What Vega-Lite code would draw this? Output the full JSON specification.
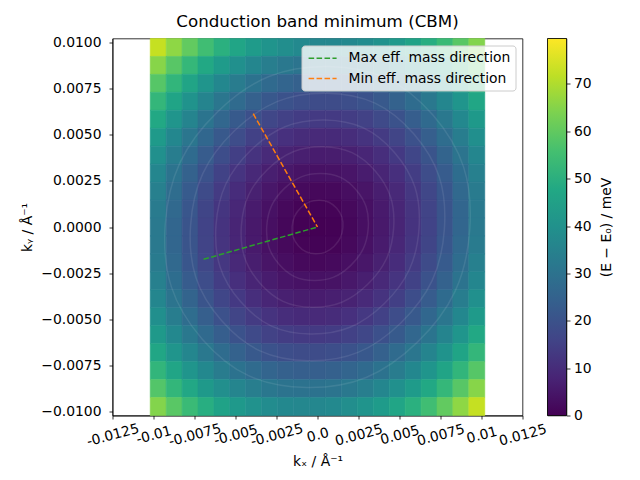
{
"$schema": "https://vega.github.io/schema/vega-lite/v6.json",
"background": "white",
"padding": {"left": 19.5, "top": 13.5, "right": 5, "bottom": 5},
"spacing": 25,
"bounds": "flush",
"resolve": {"scale": {"color": "independent", "fill": "independent", "stroke": "independent"}, "legend": {"color": "independent", "fill": "independent", "stroke": "independent"}},
"config": {
 "font": "DejaVu Sans",
 "view": {"stroke": "black", "strokeWidth": 0.8},
 "axis": {"grid": false, "domainColor": "black", "domainWidth": 0.8, "tickColor": "black", "tickWidth": 0.8, "tickSize": 3.5, "labelColor": "black", "labelFont": "DejaVu Sans", "labelFontSize": 13.9, "titleFont": "DejaVu Sans", "titleFontSize": 13.9, "titleFontWeight": "normal", "titleColor": "black", "labelPadding": 3.5, "zindex": 1},
 "legend": {"labelFont": "DejaVu Sans", "labelFontSize": 13.9, "labelColor": "black"},
 "title": {"font": "DejaVu Sans", "fontSize": 16.7, "fontWeight": "normal", "color": "black"}
},
"hconcat": [
{
 "width": 410, "height": 377,
 "title": {"text": "Conduction band minimum (CBM)", "offset": -9, "baseline": "alphabetic"},
 "resolve": {"axis": {"x": "independent", "y": "independent"}},
 "layer": [
 {
  "data": {"values": [
{"x":-0.009714,"y":0.009714,"E":72.7},{"x":-0.008743,"y":0.009714,"E":66.2},{"x":-0.007771,"y":0.009714,"E":60.4},{"x":-0.0068,"y":0.009714,"E":55.2},{"x":-0.005829,"y":0.009714,"E":50.6},{"x":-0.004857,"y":0.009714,"E":46.7},{"x":-0.003886,"y":0.009714,"E":43.4},{"x":-0.002914,"y":0.009714,"E":40.8},{"x":-0.001943,"y":0.009714,"E":38.8},{"x":-0.000971,"y":0.009714,"E":37.5},{"x":0,"y":0.009714,"E":36.7},{"x":0.000971,"y":0.009714,"E":36.7},{"x":0.001943,"y":0.009714,"E":37.2},{"x":0.002914,"y":0.009714,"E":38.4},{"x":0.003886,"y":0.009714,"E":40.3},{"x":0.004857,"y":0.009714,"E":42.8},{"x":0.005829,"y":0.009714,"E":45.9},{"x":0.0068,"y":0.009714,"E":49.6},{"x":0.007771,"y":0.009714,"E":54.1},{"x":0.008743,"y":0.009714,"E":59.1},{"x":0.009714,"y":0.009714,"E":64.8},
{"x":-0.009714,"y":0.008743,"E":65.3},{"x":-0.008743,"y":0.008743,"E":58.9},{"x":-0.007771,"y":0.008743,"E":53.1},{"x":-0.0068,"y":0.008743,"E":47.9},{"x":-0.005829,"y":0.008743,"E":43.4},{"x":-0.004857,"y":0.008743,"E":39.5},{"x":-0.003886,"y":0.008743,"E":36.3},{"x":-0.002914,"y":0.008743,"E":33.7},{"x":-0.001943,"y":0.008743,"E":31.7},{"x":-0.000971,"y":0.008743,"E":30.4},{"x":0,"y":0.008743,"E":29.8},{"x":0.000971,"y":0.008743,"E":29.7},{"x":0.001943,"y":0.008743,"E":30.3},{"x":0.002914,"y":0.008743,"E":31.6},{"x":0.003886,"y":0.008743,"E":33.5},{"x":0.004857,"y":0.008743,"E":36.0},{"x":0.005829,"y":0.008743,"E":39.1},{"x":0.0068,"y":0.008743,"E":42.9},{"x":0.007771,"y":0.008743,"E":47.4},{"x":0.008743,"y":0.008743,"E":52.5},{"x":0.009714,"y":0.008743,"E":58.2},
{"x":-0.009714,"y":0.007771,"E":58.7},{"x":-0.008743,"y":0.007771,"E":52.3},{"x":-0.007771,"y":0.007771,"E":46.5},{"x":-0.0068,"y":0.007771,"E":41.4},{"x":-0.005829,"y":0.007771,"E":36.9},{"x":-0.004857,"y":0.007771,"E":33.1},{"x":-0.003886,"y":0.007771,"E":29.9},{"x":-0.002914,"y":0.007771,"E":27.3},{"x":-0.001943,"y":0.007771,"E":25.4},{"x":-0.000971,"y":0.007771,"E":24.1},{"x":0,"y":0.007771,"E":23.5},{"x":0.000971,"y":0.007771,"E":23.5},{"x":0.001943,"y":0.007771,"E":24.2},{"x":0.002914,"y":0.007771,"E":25.4},{"x":0.003886,"y":0.007771,"E":27.4},{"x":0.004857,"y":0.007771,"E":29.9},{"x":0.005829,"y":0.007771,"E":33.1},{"x":0.0068,"y":0.007771,"E":37.0},{"x":0.007771,"y":0.007771,"E":41.5},{"x":0.008743,"y":0.007771,"E":46.6},{"x":0.009714,"y":0.007771,"E":52.4},
{"x":-0.009714,"y":0.0068,"E":52.8},{"x":-0.008743,"y":0.0068,"E":46.4},{"x":-0.007771,"y":0.0068,"E":40.7},{"x":-0.0068,"y":0.0068,"E":35.6},{"x":-0.005829,"y":0.0068,"E":31.2},{"x":-0.004857,"y":0.0068,"E":27.4},{"x":-0.003886,"y":0.0068,"E":24.2},{"x":-0.002914,"y":0.0068,"E":21.7},{"x":-0.001943,"y":0.0068,"E":19.8},{"x":-0.000971,"y":0.0068,"E":18.6},{"x":0,"y":0.0068,"E":18.0},{"x":0.000971,"y":0.0068,"E":18.0},{"x":0.001943,"y":0.0068,"E":18.7},{"x":0.002914,"y":0.0068,"E":20.0},{"x":0.003886,"y":0.0068,"E":22.0},{"x":0.004857,"y":0.0068,"E":24.6},{"x":0.005829,"y":0.0068,"E":27.9},{"x":0.0068,"y":0.0068,"E":31.7},{"x":0.007771,"y":0.0068,"E":36.3},{"x":0.008743,"y":0.0068,"E":41.4},{"x":0.009714,"y":0.0068,"E":47.2},
{"x":-0.009714,"y":0.005829,"E":47.6},{"x":-0.008743,"y":0.005829,"E":41.3},{"x":-0.007771,"y":0.005829,"E":35.6},{"x":-0.0068,"y":0.005829,"E":30.6},{"x":-0.005829,"y":0.005829,"E":26.2},{"x":-0.004857,"y":0.005829,"E":22.4},{"x":-0.003886,"y":0.005829,"E":19.3},{"x":-0.002914,"y":0.005829,"E":16.8},{"x":-0.001943,"y":0.005829,"E":15.0},{"x":-0.000971,"y":0.005829,"E":13.8},{"x":0,"y":0.005829,"E":13.2},{"x":0.000971,"y":0.005829,"E":13.3},{"x":0.001943,"y":0.005829,"E":14.0},{"x":0.002914,"y":0.005829,"E":15.4},{"x":0.003886,"y":0.005829,"E":17.4},{"x":0.004857,"y":0.005829,"E":20.0},{"x":0.005829,"y":0.005829,"E":23.3},{"x":0.0068,"y":0.005829,"E":27.2},{"x":0.007771,"y":0.005829,"E":31.8},{"x":0.008743,"y":0.005829,"E":37.0},{"x":0.009714,"y":0.005829,"E":42.9},
{"x":-0.009714,"y":0.004857,"E":43.2},{"x":-0.008743,"y":0.004857,"E":36.9},{"x":-0.007771,"y":0.004857,"E":31.3},{"x":-0.0068,"y":0.004857,"E":26.3},{"x":-0.005829,"y":0.004857,"E":21.9},{"x":-0.004857,"y":0.004857,"E":18.2},{"x":-0.003886,"y":0.004857,"E":15.1},{"x":-0.002914,"y":0.004857,"E":12.7},{"x":-0.001943,"y":0.004857,"E":10.9},{"x":-0.000971,"y":0.004857,"E":9.7},{"x":0,"y":0.004857,"E":9.2},{"x":0.000971,"y":0.004857,"E":9.3},{"x":0.001943,"y":0.004857,"E":10.1},{"x":0.002914,"y":0.004857,"E":11.5},{"x":0.003886,"y":0.004857,"E":13.5},{"x":0.004857,"y":0.004857,"E":16.2},{"x":0.005829,"y":0.004857,"E":19.5},{"x":0.0068,"y":0.004857,"E":23.5},{"x":0.007771,"y":0.004857,"E":28.1},{"x":0.008743,"y":0.004857,"E":33.3},{"x":0.009714,"y":0.004857,"E":39.2},
{"x":-0.009714,"y":0.003886,"E":39.5},{"x":-0.008743,"y":0.003886,"E":33.2},{"x":-0.007771,"y":0.003886,"E":27.6},{"x":-0.0068,"y":0.003886,"E":22.7},{"x":-0.005829,"y":0.003886,"E":18.4},{"x":-0.004857,"y":0.003886,"E":14.7},{"x":-0.003886,"y":0.003886,"E":11.6},{"x":-0.002914,"y":0.003886,"E":9.2},{"x":-0.001943,"y":0.003886,"E":7.5},{"x":-0.000971,"y":0.003886,"E":6.4},{"x":0,"y":0.003886,"E":5.9},{"x":0.000971,"y":0.003886,"E":6.0},{"x":0.001943,"y":0.003886,"E":6.8},{"x":0.002914,"y":0.003886,"E":8.3},{"x":0.003886,"y":0.003886,"E":10.4},{"x":0.004857,"y":0.003886,"E":13.1},{"x":0.005829,"y":0.003886,"E":16.5},{"x":0.0068,"y":0.003886,"E":20.5},{"x":0.007771,"y":0.003886,"E":25.1},{"x":0.008743,"y":0.003886,"E":30.4},{"x":0.009714,"y":0.003886,"E":36.3},
{"x":-0.009714,"y":0.002914,"E":36.5},{"x":-0.008743,"y":0.002914,"E":30.3},{"x":-0.007771,"y":0.002914,"E":24.7},{"x":-0.0068,"y":0.002914,"E":19.8},{"x":-0.005829,"y":0.002914,"E":15.5},{"x":-0.004857,"y":0.002914,"E":11.9},{"x":-0.003886,"y":0.002914,"E":8.9},{"x":-0.002914,"y":0.002914,"E":6.5},{"x":-0.001943,"y":0.002914,"E":4.8},{"x":-0.000971,"y":0.002914,"E":3.7},{"x":0,"y":0.002914,"E":3.3},{"x":0.000971,"y":0.002914,"E":3.5},{"x":0.001943,"y":0.002914,"E":4.3},{"x":0.002914,"y":0.002914,"E":5.8},{"x":0.003886,"y":0.002914,"E":8.0},{"x":0.004857,"y":0.002914,"E":10.7},{"x":0.005829,"y":0.002914,"E":14.1},{"x":0.0068,"y":0.002914,"E":18.2},{"x":0.007771,"y":0.002914,"E":22.8},{"x":0.008743,"y":0.002914,"E":28.2},{"x":0.009714,"y":0.002914,"E":34.1},
{"x":-0.009714,"y":0.001943,"E":34.3},{"x":-0.008743,"y":0.001943,"E":28.1},{"x":-0.007771,"y":0.001943,"E":22.6},{"x":-0.0068,"y":0.001943,"E":17.7},{"x":-0.005829,"y":0.001943,"E":13.5},{"x":-0.004857,"y":0.001943,"E":9.9},{"x":-0.003886,"y":0.001943,"E":6.9},{"x":-0.002914,"y":0.001943,"E":4.6},{"x":-0.001943,"y":0.001943,"E":2.9},{"x":-0.000971,"y":0.001943,"E":1.9},{"x":0,"y":0.001943,"E":1.5},{"x":0.000971,"y":0.001943,"E":1.7},{"x":0.001943,"y":0.001943,"E":2.6},{"x":0.002914,"y":0.001943,"E":4.1},{"x":0.003886,"y":0.001943,"E":6.3},{"x":0.004857,"y":0.001943,"E":9.1},{"x":0.005829,"y":0.001943,"E":12.5},{"x":0.0068,"y":0.001943,"E":16.6},{"x":0.007771,"y":0.001943,"E":21.3},{"x":0.008743,"y":0.001943,"E":26.7},{"x":0.009714,"y":0.001943,"E":32.7},
{"x":-0.009714,"y":0.000971,"E":32.8},{"x":-0.008743,"y":0.000971,"E":26.7},{"x":-0.007771,"y":0.000971,"E":21.2},{"x":-0.0068,"y":0.000971,"E":16.3},{"x":-0.005829,"y":0.000971,"E":12.1},{"x":-0.004857,"y":0.000971,"E":8.6},{"x":-0.003886,"y":0.000971,"E":5.6},{"x":-0.002914,"y":0.000971,"E":3.4},{"x":-0.001943,"y":0.000971,"E":1.7},{"x":-0.000971,"y":0.000971,"E":0.7},{"x":0,"y":0.000971,"E":0.4},{"x":0.000971,"y":0.000971,"E":0.6},{"x":0.001943,"y":0.000971,"E":1.6},{"x":0.002914,"y":0.000971,"E":3.1},{"x":0.003886,"y":0.000971,"E":5.3},{"x":0.004857,"y":0.000971,"E":8.2},{"x":0.005829,"y":0.000971,"E":11.7},{"x":0.0068,"y":0.000971,"E":15.8},{"x":0.007771,"y":0.000971,"E":20.5},{"x":0.008743,"y":0.000971,"E":25.9},{"x":0.009714,"y":0.000971,"E":32.0},
{"x":-0.009714,"y":0,"E":32.0},{"x":-0.008743,"y":0,"E":25.9},{"x":-0.007771,"y":0,"E":20.5},{"x":-0.0068,"y":0,"E":15.7},{"x":-0.005829,"y":0,"E":11.5},{"x":-0.004857,"y":0,"E":8.0},{"x":-0.003886,"y":0,"E":5.1},{"x":-0.002914,"y":0,"E":2.9},{"x":-0.001943,"y":0,"E":1.3},{"x":-0.000971,"y":0,"E":0.3},{"x":0,"y":0,"E":0},{"x":0.000971,"y":0,"E":0.3},{"x":0.001943,"y":0,"E":1.3},{"x":0.002914,"y":0,"E":2.9},{"x":0.003886,"y":0,"E":5.1},{"x":0.004857,"y":0,"E":8.0},{"x":0.005829,"y":0,"E":11.5},{"x":0.0068,"y":0,"E":15.7},{"x":0.007771,"y":0,"E":20.5},{"x":0.008743,"y":0,"E":25.9},{"x":0.009714,"y":0,"E":32.0},
{"x":-0.009714,"y":-0.000971,"E":32.0},{"x":-0.008743,"y":-0.000971,"E":25.9},{"x":-0.007771,"y":-0.000971,"E":20.5},{"x":-0.0068,"y":-0.000971,"E":15.8},{"x":-0.005829,"y":-0.000971,"E":11.7},{"x":-0.004857,"y":-0.000971,"E":8.2},{"x":-0.003886,"y":-0.000971,"E":5.3},{"x":-0.002914,"y":-0.000971,"E":3.1},{"x":-0.001943,"y":-0.000971,"E":1.6},{"x":-0.000971,"y":-0.000971,"E":0.6},{"x":0,"y":-0.000971,"E":0.4},{"x":0.000971,"y":-0.000971,"E":0.7},{"x":0.001943,"y":-0.000971,"E":1.7},{"x":0.002914,"y":-0.000971,"E":3.4},{"x":0.003886,"y":-0.000971,"E":5.6},{"x":0.004857,"y":-0.000971,"E":8.6},{"x":0.005829,"y":-0.000971,"E":12.1},{"x":0.0068,"y":-0.000971,"E":16.3},{"x":0.007771,"y":-0.000971,"E":21.2},{"x":0.008743,"y":-0.000971,"E":26.7},{"x":0.009714,"y":-0.000971,"E":32.8},
{"x":-0.009714,"y":-0.001943,"E":32.7},{"x":-0.008743,"y":-0.001943,"E":26.7},{"x":-0.007771,"y":-0.001943,"E":21.3},{"x":-0.0068,"y":-0.001943,"E":16.6},{"x":-0.005829,"y":-0.001943,"E":12.5},{"x":-0.004857,"y":-0.001943,"E":9.1},{"x":-0.003886,"y":-0.001943,"E":6.3},{"x":-0.002914,"y":-0.001943,"E":4.1},{"x":-0.001943,"y":-0.001943,"E":2.6},{"x":-0.000971,"y":-0.001943,"E":1.7},{"x":0,"y":-0.001943,"E":1.5},{"x":0.000971,"y":-0.001943,"E":1.9},{"x":0.001943,"y":-0.001943,"E":2.9},{"x":0.002914,"y":-0.001943,"E":4.6},{"x":0.003886,"y":-0.001943,"E":6.9},{"x":0.004857,"y":-0.001943,"E":9.9},{"x":0.005829,"y":-0.001943,"E":13.5},{"x":0.0068,"y":-0.001943,"E":17.7},{"x":0.007771,"y":-0.001943,"E":22.6},{"x":0.008743,"y":-0.001943,"E":28.1},{"x":0.009714,"y":-0.001943,"E":34.3},
{"x":-0.009714,"y":-0.002914,"E":34.1},{"x":-0.008743,"y":-0.002914,"E":28.2},{"x":-0.007771,"y":-0.002914,"E":22.8},{"x":-0.0068,"y":-0.002914,"E":18.2},{"x":-0.005829,"y":-0.002914,"E":14.1},{"x":-0.004857,"y":-0.002914,"E":10.7},{"x":-0.003886,"y":-0.002914,"E":8.0},{"x":-0.002914,"y":-0.002914,"E":5.8},{"x":-0.001943,"y":-0.002914,"E":4.3},{"x":-0.000971,"y":-0.002914,"E":3.5},{"x":0,"y":-0.002914,"E":3.3},{"x":0.000971,"y":-0.002914,"E":3.7},{"x":0.001943,"y":-0.002914,"E":4.8},{"x":0.002914,"y":-0.002914,"E":6.5},{"x":0.003886,"y":-0.002914,"E":8.9},{"x":0.004857,"y":-0.002914,"E":11.9},{"x":0.005829,"y":-0.002914,"E":15.5},{"x":0.0068,"y":-0.002914,"E":19.8},{"x":0.007771,"y":-0.002914,"E":24.7},{"x":0.008743,"y":-0.002914,"E":30.3},{"x":0.009714,"y":-0.002914,"E":36.5},
{"x":-0.009714,"y":-0.003886,"E":36.3},{"x":-0.008743,"y":-0.003886,"E":30.4},{"x":-0.007771,"y":-0.003886,"E":25.1},{"x":-0.0068,"y":-0.003886,"E":20.5},{"x":-0.005829,"y":-0.003886,"E":16.5},{"x":-0.004857,"y":-0.003886,"E":13.1},{"x":-0.003886,"y":-0.003886,"E":10.4},{"x":-0.002914,"y":-0.003886,"E":8.3},{"x":-0.001943,"y":-0.003886,"E":6.8},{"x":-0.000971,"y":-0.003886,"E":6.0},{"x":0,"y":-0.003886,"E":5.9},{"x":0.000971,"y":-0.003886,"E":6.4},{"x":0.001943,"y":-0.003886,"E":7.5},{"x":0.002914,"y":-0.003886,"E":9.2},{"x":0.003886,"y":-0.003886,"E":11.6},{"x":0.004857,"y":-0.003886,"E":14.7},{"x":0.005829,"y":-0.003886,"E":18.4},{"x":0.0068,"y":-0.003886,"E":22.7},{"x":0.007771,"y":-0.003886,"E":27.6},{"x":0.008743,"y":-0.003886,"E":33.2},{"x":0.009714,"y":-0.003886,"E":39.5},
{"x":-0.009714,"y":-0.004857,"E":39.2},{"x":-0.008743,"y":-0.004857,"E":33.3},{"x":-0.007771,"y":-0.004857,"E":28.1},{"x":-0.0068,"y":-0.004857,"E":23.5},{"x":-0.005829,"y":-0.004857,"E":19.5},{"x":-0.004857,"y":-0.004857,"E":16.2},{"x":-0.003886,"y":-0.004857,"E":13.5},{"x":-0.002914,"y":-0.004857,"E":11.5},{"x":-0.001943,"y":-0.004857,"E":10.1},{"x":-0.000971,"y":-0.004857,"E":9.3},{"x":0,"y":-0.004857,"E":9.2},{"x":0.000971,"y":-0.004857,"E":9.7},{"x":0.001943,"y":-0.004857,"E":10.9},{"x":0.002914,"y":-0.004857,"E":12.7},{"x":0.003886,"y":-0.004857,"E":15.1},{"x":0.004857,"y":-0.004857,"E":18.2},{"x":0.005829,"y":-0.004857,"E":21.9},{"x":0.0068,"y":-0.004857,"E":26.3},{"x":0.007771,"y":-0.004857,"E":31.3},{"x":0.008743,"y":-0.004857,"E":36.9},{"x":0.009714,"y":-0.004857,"E":43.2},
{"x":-0.009714,"y":-0.005829,"E":42.9},{"x":-0.008743,"y":-0.005829,"E":37.0},{"x":-0.007771,"y":-0.005829,"E":31.8},{"x":-0.0068,"y":-0.005829,"E":27.2},{"x":-0.005829,"y":-0.005829,"E":23.3},{"x":-0.004857,"y":-0.005829,"E":20.0},{"x":-0.003886,"y":-0.005829,"E":17.4},{"x":-0.002914,"y":-0.005829,"E":15.4},{"x":-0.001943,"y":-0.005829,"E":14.0},{"x":-0.000971,"y":-0.005829,"E":13.3},{"x":0,"y":-0.005829,"E":13.2},{"x":0.000971,"y":-0.005829,"E":13.8},{"x":0.001943,"y":-0.005829,"E":15.0},{"x":0.002914,"y":-0.005829,"E":16.8},{"x":0.003886,"y":-0.005829,"E":19.3},{"x":0.004857,"y":-0.005829,"E":22.4},{"x":0.005829,"y":-0.005829,"E":26.2},{"x":0.0068,"y":-0.005829,"E":30.6},{"x":0.007771,"y":-0.005829,"E":35.6},{"x":0.008743,"y":-0.005829,"E":41.3},{"x":0.009714,"y":-0.005829,"E":47.6},
{"x":-0.009714,"y":-0.0068,"E":47.2},{"x":-0.008743,"y":-0.0068,"E":41.4},{"x":-0.007771,"y":-0.0068,"E":36.3},{"x":-0.0068,"y":-0.0068,"E":31.7},{"x":-0.005829,"y":-0.0068,"E":27.9},{"x":-0.004857,"y":-0.0068,"E":24.6},{"x":-0.003886,"y":-0.0068,"E":22.0},{"x":-0.002914,"y":-0.0068,"E":20.0},{"x":-0.001943,"y":-0.0068,"E":18.7},{"x":-0.000971,"y":-0.0068,"E":18.0},{"x":0,"y":-0.0068,"E":18.0},{"x":0.000971,"y":-0.0068,"E":18.6},{"x":0.001943,"y":-0.0068,"E":19.8},{"x":0.002914,"y":-0.0068,"E":21.7},{"x":0.003886,"y":-0.0068,"E":24.2},{"x":0.004857,"y":-0.0068,"E":27.4},{"x":0.005829,"y":-0.0068,"E":31.2},{"x":0.0068,"y":-0.0068,"E":35.6},{"x":0.007771,"y":-0.0068,"E":40.7},{"x":0.008743,"y":-0.0068,"E":46.4},{"x":0.009714,"y":-0.0068,"E":52.8},
{"x":-0.009714,"y":-0.007771,"E":52.4},{"x":-0.008743,"y":-0.007771,"E":46.6},{"x":-0.007771,"y":-0.007771,"E":41.5},{"x":-0.0068,"y":-0.007771,"E":37.0},{"x":-0.005829,"y":-0.007771,"E":33.1},{"x":-0.004857,"y":-0.007771,"E":29.9},{"x":-0.003886,"y":-0.007771,"E":27.4},{"x":-0.002914,"y":-0.007771,"E":25.4},{"x":-0.001943,"y":-0.007771,"E":24.2},{"x":-0.000971,"y":-0.007771,"E":23.5},{"x":0,"y":-0.007771,"E":23.5},{"x":0.000971,"y":-0.007771,"E":24.1},{"x":0.001943,"y":-0.007771,"E":25.4},{"x":0.002914,"y":-0.007771,"E":27.3},{"x":0.003886,"y":-0.007771,"E":29.9},{"x":0.004857,"y":-0.007771,"E":33.1},{"x":0.005829,"y":-0.007771,"E":36.9},{"x":0.0068,"y":-0.007771,"E":41.4},{"x":0.007771,"y":-0.007771,"E":46.5},{"x":0.008743,"y":-0.007771,"E":52.3},{"x":0.009714,"y":-0.007771,"E":58.7},
{"x":-0.009714,"y":-0.008743,"E":58.2},{"x":-0.008743,"y":-0.008743,"E":52.5},{"x":-0.007771,"y":-0.008743,"E":47.4},{"x":-0.0068,"y":-0.008743,"E":42.9},{"x":-0.005829,"y":-0.008743,"E":39.1},{"x":-0.004857,"y":-0.008743,"E":36.0},{"x":-0.003886,"y":-0.008743,"E":33.5},{"x":-0.002914,"y":-0.008743,"E":31.6},{"x":-0.001943,"y":-0.008743,"E":30.3},{"x":-0.000971,"y":-0.008743,"E":29.7},{"x":0,"y":-0.008743,"E":29.8},{"x":0.000971,"y":-0.008743,"E":30.4},{"x":0.001943,"y":-0.008743,"E":31.7},{"x":0.002914,"y":-0.008743,"E":33.7},{"x":0.003886,"y":-0.008743,"E":36.3},{"x":0.004857,"y":-0.008743,"E":39.5},{"x":0.005829,"y":-0.008743,"E":43.4},{"x":0.0068,"y":-0.008743,"E":47.9},{"x":0.007771,"y":-0.008743,"E":53.1},{"x":0.008743,"y":-0.008743,"E":58.9},{"x":0.009714,"y":-0.008743,"E":65.3},
{"x":-0.009714,"y":-0.009714,"E":64.8},{"x":-0.008743,"y":-0.009714,"E":59.1},{"x":-0.007771,"y":-0.009714,"E":54.1},{"x":-0.0068,"y":-0.009714,"E":49.6},{"x":-0.005829,"y":-0.009714,"E":45.9},{"x":-0.004857,"y":-0.009714,"E":42.8},{"x":-0.003886,"y":-0.009714,"E":40.3},{"x":-0.002914,"y":-0.009714,"E":38.4},{"x":-0.001943,"y":-0.009714,"E":37.2},{"x":-0.000971,"y":-0.009714,"E":36.7},{"x":0,"y":-0.009714,"E":36.7},{"x":0.000971,"y":-0.009714,"E":37.5},{"x":0.001943,"y":-0.009714,"E":38.8},{"x":0.002914,"y":-0.009714,"E":40.8},{"x":0.003886,"y":-0.009714,"E":43.4},{"x":0.004857,"y":-0.009714,"E":46.7},{"x":0.005829,"y":-0.009714,"E":50.6},{"x":0.0068,"y":-0.009714,"E":55.2},{"x":0.007771,"y":-0.009714,"E":60.4},{"x":0.008743,"y":-0.009714,"E":66.2},{"x":0.009714,"y":-0.009714,"E":72.7}
  ]},
  "transform": [
   {"bin": {"step": 0.000971428571, "extent": [-0.0102, 0.0102], "nice": false}, "field": "x", "as": "x0"},
   {"bin": {"step": 0.000971428571, "extent": [-0.0102, 0.0102], "nice": false}, "field": "y", "as": "y0"}
  ],
  "mark": {"type": "rect", "strokeWidth": 0.6},
  "encoding": {
   "x": {"field": "x0", "type": "quantitative", "scale": {"domain": [-0.0125, 0.0125], "nice": false, "zero": false},
         "axis": {"orient": "bottom", "title": "kₓ / Å⁻¹", "values": [-0.0125, -0.01, -0.0075, -0.005, -0.0025, 0, 0.0025, 0.005, 0.0075, 0.01, 0.0125],
                  "labelExpr": "datum.value === 0 ? '0.0' : replace(format(datum.value, '~g'), '−', '-')",
                  "labelAngle": -15, "labelAlign": "center", "labelBaseline": "middle", "labelPadding": 16, "labelOverlap": false, "labelFlush": false, "titlePadding": 6}},
   "x2": {"field": "x0_end"},
   "y": {"field": "y0", "type": "quantitative", "scale": {"domain": [-0.0102, 0.0102], "nice": false, "zero": false},
         "axis": {"orient": "left", "title": "kᵧ / Å⁻¹", "values": [-0.01, -0.0075, -0.005, -0.0025, 0, 0.0025, 0.005, 0.0075, 0.01], "format": ".4f", "labelPadding": 8, "labelOverlap": false, "labelFlush": false, "titlePadding": 6}},
   "y2": {"field": "y0_end"},
   "fill": {"field": "E", "type": "quantitative", "scale": {"scheme": "viridis", "domain": [0, 79.6]}, "legend": null},
   "stroke": {"field": "E", "type": "quantitative", "scale": {"scheme": "viridis", "domain": [0, 79.6]}, "legend": null}
  }
 },
 {
  "data": {"values": [
{"r":1,"o":0,"x":0.001485,"y":0.00054},{"r":1,"o":1,"x":0.000701,"y":0.001341},{"r":1,"o":2,"x":-0.000494,"y":0.001357},{"r":1,"o":3,"x":-0.001399,"y":0.000578},{"r":1,"o":4,"x":-0.001485,"y":-0.00054},{"r":1,"o":5,"x":-0.000701,"y":-0.001341},{"r":1,"o":6,"x":0.000494,"y":-0.001357},{"r":1,"o":7,"x":0.001399,"y":-0.000578},
{"r":2,"o":0,"x":0.00297,"y":0.00108},{"r":2,"o":1,"x":0.001402,"y":0.002682},{"r":2,"o":2,"x":-0.000988,"y":0.002714},{"r":2,"o":3,"x":-0.002798,"y":0.001156},{"r":2,"o":4,"x":-0.00297,"y":-0.00108},{"r":2,"o":5,"x":-0.001402,"y":-0.002682},{"r":2,"o":6,"x":0.000988,"y":-0.002714},{"r":2,"o":7,"x":0.002798,"y":-0.001156},
{"r":3,"o":0,"x":0.004455,"y":0.00162},{"r":3,"o":1,"x":0.002103,"y":0.004023},{"r":3,"o":2,"x":-0.001482,"y":0.004071},{"r":3,"o":3,"x":-0.004197,"y":0.001734},{"r":3,"o":4,"x":-0.004455,"y":-0.00162},{"r":3,"o":5,"x":-0.002103,"y":-0.004023},{"r":3,"o":6,"x":0.001482,"y":-0.004071},{"r":3,"o":7,"x":0.004197,"y":-0.001734},
{"r":4,"o":0,"x":0.00594,"y":0.00216},{"r":4,"o":1,"x":0.002804,"y":0.005364},{"r":4,"o":2,"x":-0.001976,"y":0.005428},{"r":4,"o":3,"x":-0.005596,"y":0.002312},{"r":4,"o":4,"x":-0.00594,"y":-0.00216},{"r":4,"o":5,"x":-0.002804,"y":-0.005364},{"r":4,"o":6,"x":0.001976,"y":-0.005428},{"r":4,"o":7,"x":0.005596,"y":-0.002312},
{"r":5,"o":0,"x":0.007425,"y":0.0027},{"r":5,"o":1,"x":0.003505,"y":0.006705},{"r":5,"o":2,"x":-0.00247,"y":0.006785},{"r":5,"o":3,"x":-0.006995,"y":0.00289},{"r":5,"o":4,"x":-0.007425,"y":-0.0027},{"r":5,"o":5,"x":-0.003505,"y":-0.006705},{"r":5,"o":6,"x":0.00247,"y":-0.006785},{"r":5,"o":7,"x":0.006995,"y":-0.00289},
{"r":6,"o":0,"x":0.00891,"y":0.00324},{"r":6,"o":1,"x":0.004206,"y":0.008046},{"r":6,"o":2,"x":-0.002964,"y":0.008142},{"r":6,"o":3,"x":-0.008394,"y":0.003468},{"r":6,"o":4,"x":-0.00891,"y":-0.00324},{"r":6,"o":5,"x":-0.004206,"y":-0.008046},{"r":6,"o":6,"x":0.002964,"y":-0.008142},{"r":6,"o":7,"x":0.008394,"y":-0.003468}
  ]},
  "mark": {"type": "line", "interpolate": "cardinal-closed", "stroke": "#ffffff", "strokeOpacity": 0.09, "strokeWidth": 1.5},
  "encoding": {
   "x": {"field": "x", "type": "quantitative", "axis": null},
   "y": {"field": "y", "type": "quantitative", "axis": null},
   "detail": {"field": "r", "type": "nominal"},
   "order": {"field": "o", "type": "quantitative"}
  }
 },
 {
  "mark": {"type": "rule", "color": "black", "strokeWidth": 0.8},
  "encoding": {"y": {"datum": 0.0102, "type": "quantitative", "axis": null}}
 },
 {
  "data": {"values": [
   {"d": "Max eff. mass direction", "x": 0, "y": 0},
   {"d": "Max eff. mass direction", "x": -0.00695, "y": -0.00175},
   {"d": "Min eff. mass direction", "x": 0, "y": 0},
   {"d": "Min eff. mass direction", "x": -0.00392, "y": 0.00613}
  ]},
  "mark": {"type": "line", "strokeDash": [5.55, 2.4], "strokeWidth": 1.5},
  "encoding": {
   "x": {"field": "x", "type": "quantitative", "axis": null},
   "y": {"field": "y", "type": "quantitative", "axis": null},
   "color": {"field": "d", "type": "nominal",
     "scale": {"domain": ["Max eff. mass direction", "Min eff. mass direction"], "range": ["#2ca02c", "#ff7f0e"]},
     "legend": {"title": null, "orient": "top-right", "offset": 7, "padding": 4.7, "fillColor": "rgba(255,255,255,0.8)", "strokeColor": "#cccccc", "cornerRadius": 3, "symbolType": "M-0.8,0L3.2,0", "symbolSize": 196, "symbolStrokeWidth": 1.5, "symbolDash": [5.55, 2.4], "labelFontSize": 13.9, "labelOffset": 26.3, "rowPadding": 5.3, "labelLimit": 300}}
  }
 }
 ]
},
{
 "width": 19, "height": 377,
 "data": {"values": [{"lo": 0, "hi": 79.6}]},
 "mark": {"type": "rect", "stroke": "black", "strokeWidth": 0.8,
   "fill": {"gradient": "linear", "x1": 0, "y1": 1, "x2": 0, "y2": 0, "stops": [
     {"offset": 0, "color": "#440154"}, {"offset": 0.1, "color": "#482475"}, {"offset": 0.2, "color": "#414487"}, {"offset": 0.3, "color": "#355f8d"}, {"offset": 0.4, "color": "#2a788e"}, {"offset": 0.5, "color": "#21918c"}, {"offset": 0.6, "color": "#22a884"}, {"offset": 0.7, "color": "#44bf70"}, {"offset": 0.8, "color": "#7ad151"}, {"offset": 0.9, "color": "#bddf26"}, {"offset": 1, "color": "#fde725"}]}},
 "encoding": {
  "x": {"value": 0},
  "x2": {"value": "width"},
  "y": {"field": "lo", "type": "quantitative", "scale": {"domain": [0, 79.6], "nice": false, "zero": false},
        "axis": {"orient": "right", "values": [0, 10, 20, 30, 40, 50, 60, 70], "domain": false, "title": "(E − E₀) / meV", "titleAngle": 270, "titleBaseline": "top", "titlePadding": 8, "labelOverlap": false, "labelFlush": false}},
  "y2": {"field": "hi"}
 }
}
]
}
